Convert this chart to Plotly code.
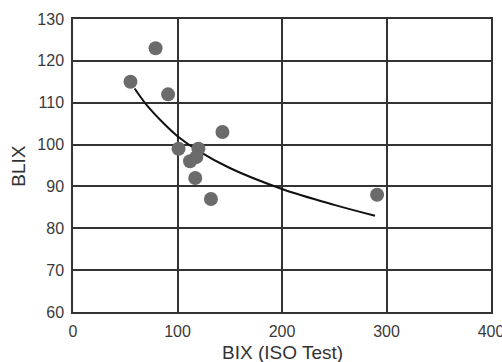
import plotly.graph_objects as go

# Measured points
bix = [55, 79, 91, 101, 112, 120, 118, 117, 143, 132, 291]
blix = [115, 123, 112, 99, 96, 99, 97, 92, 103, 87, 88]

# Trend curve
curve_x = [59, 70, 85, 100, 120, 150, 200, 250, 289]
curve_y = [113.4, 109.6, 105.5, 102.0, 98.5, 94.4, 89.4, 85.6, 83.0]

x_ticks = [0, 100, 200, 300, 400]
y_ticks = [60, 70, 80, 90, 100, 110, 120, 130]

x_title = "BIX (ISO Test)"
y_title = "BLIX"

fig = go.Figure()
fig.add_trace(go.Scatter(x=curve_x, y=curve_y, mode="lines",
                         line=dict(color="#111111", width=2, shape="spline", smoothing=1.0),
                         showlegend=False, hoverinfo="skip"))
fig.add_trace(go.Scatter(x=bix, y=blix, mode="markers",
                         marker=dict(color="#6b6b6b", size=14, line=dict(width=0)),
                         showlegend=False))

fam = "Liberation Sans, Arial, sans-serif"
font = dict(family=fam, size=16, color="#3a3a3a")
axis_common = dict(showgrid=True, gridcolor="#333333", gridwidth=1.5,
                   showline=True, linecolor="#333333", linewidth=1.5,
                   mirror=True, zeroline=False, ticks="outside", ticklen=4,
                   tickcolor="rgba(0,0,0,0)", automargin=False,
                   ticklabeloverflow="allow",
                   tickfont=dict(family=fam, size=16, color="#3a3a3a"))
fig.update_layout(
    width=502, height=362,
    margin=dict(l=73, r=11, t=19, b=50),
    paper_bgcolor="white", plot_bgcolor="white",
    font=font,
    xaxis=dict(range=[0, 400], tickvals=x_ticks, **axis_common),
    yaxis=dict(range=[60, 130], tickvals=y_ticks, **axis_common),
    annotations=[
        dict(text=x_title, xref="paper", yref="paper", x=0.5, y=-0.139,
             xanchor="center", yanchor="middle", showarrow=False,
             font=dict(family=fam, size=19, color="#333333")),
        dict(text=y_title, xref="paper", yref="paper", x=-0.131, y=0.5,
             xanchor="center", yanchor="middle", showarrow=False, textangle=-90,
             font=dict(family=fam, size=19, color="#333333")),
    ],
)
fig.write_html("out.html", config={"displayModeBar": False},
               post_script="document.body.style.margin='0';document.body.style.overflow='hidden';")
